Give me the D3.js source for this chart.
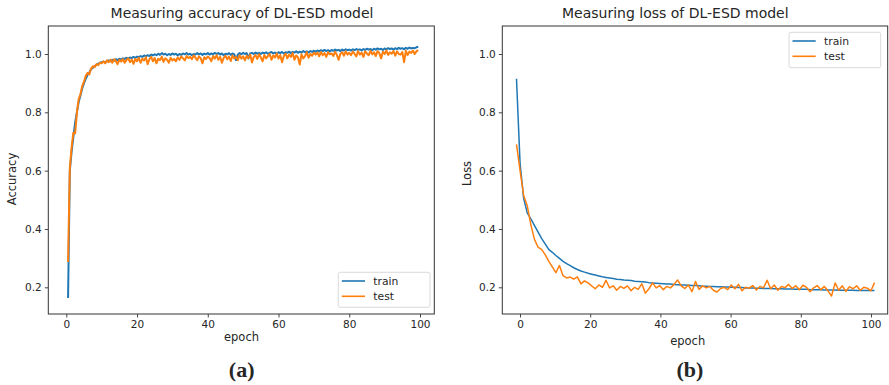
<!DOCTYPE html>
<html><head><meta charset="utf-8">
<script src="https://cdn.jsdelivr.net/npm/d3@7"></script>
<style>
body{margin:0;background:#fff}
svg{display:block}
text{font-family:"DejaVu Sans",sans-serif;fill:#262626}
</style>
</head><body><svg id="c" width="889" height="385"></svg>
<script>
// ---- data ----
const seriesNames = ["train", "test"];
const xTicks = [0, 20, 40, 60, 80, 100];
const yTicks = [0.2, 0.4, 0.6, 0.8, 1.0];

const accTrain = [
0.163,0.600,0.665,0.715,0.765,0.800,0.835,0.858,0.882,0.900,0.915,0.928,0.936,0.948,0.953,0.958,0.963,0.966,0.970,0.972,
0.974,0.970,0.976,0.978,0.975,0.980,0.977,0.982,0.979,0.984,0.981,0.985,0.983,0.987,0.984,0.988,0.986,0.990,0.987,0.991,
0.989,0.993,0.990,0.995,0.992,0.996,0.993,0.998,0.995,0.999,0.996,1.001,0.997,1.003,0.998,1.001,0.996,1.000,0.997,1.002,
0.998,1.001,0.995,1.000,0.997,1.002,0.999,1.003,0.998,1.001,0.996,1.000,0.998,1.003,0.999,1.002,0.997,1.001,0.999,1.003,
0.998,1.002,0.999,1.004,1.000,1.003,0.998,1.002,0.996,1.001,0.999,1.003,0.997,1.002,0.999,0.979,0.998,1.003,0.999,1.004,
1.000,1.003,0.985,1.002,1.004,1.000,1.005,1.001,1.004,1.000,1.005,1.002,1.006,1.001,1.004,1.007,1.002,1.005,1.001,1.006,
1.003,1.007,1.002,1.006,1.004,1.008,1.003,1.007,1.005,1.009,1.004,1.008,1.005,1.010,1.006,1.009,1.005,1.010,1.007,1.011,
1.008,1.012,1.009,1.013,1.010,1.014,1.010,1.013,1.009,1.014,1.011,1.015,1.012,1.014,1.010,1.015,1.012,1.016,1.013,1.015,
1.012,1.016,1.013,1.017,1.014,1.016,1.012,1.017,1.014,1.018,1.015,1.017,1.013,1.018,1.015,1.019,1.016,1.018,1.014,1.019,
1.016,1.020,1.017,1.019,1.015,1.020,1.017,1.021,1.018,1.020,1.016,1.021,1.018,1.022,1.019,1.021,1.020,1.023,1.025];

const accTest = [
0.287,0.610,0.680,0.730,0.728,0.800,0.845,0.862,0.890,0.905,0.925,0.935,0.930,0.950,0.958,0.955,0.965,0.962,0.970,0.968,
0.975,0.968,0.978,0.972,0.980,0.970,0.982,0.976,0.965,0.980,0.974,0.983,0.970,0.979,0.985,0.972,0.981,0.966,0.983,0.975,
0.987,0.970,0.984,0.978,0.989,0.965,0.982,0.990,0.975,0.986,0.968,0.984,0.979,0.991,0.973,0.985,0.980,0.970,0.987,0.978,
0.983,0.975,0.988,0.980,0.992,0.985,0.978,0.993,0.986,0.990,0.982,0.995,0.988,0.979,0.992,0.985,0.968,0.989,0.983,0.991,
0.986,0.975,0.993,0.984,0.996,0.980,0.990,0.970,0.987,0.994,0.982,0.991,0.976,0.995,0.985,0.990,0.979,0.996,0.984,0.992,
0.978,0.994,0.986,0.998,0.971,0.990,0.996,0.983,0.999,0.988,0.975,0.997,0.985,0.993,1.000,0.980,0.995,0.988,1.002,0.984,
0.996,0.972,0.993,1.001,0.985,0.998,0.990,1.003,0.980,0.995,0.988,0.964,0.999,0.985,0.993,1.006,0.987,1.000,0.994,1.004,
0.998,1.005,0.992,1.007,0.996,1.003,0.990,1.006,0.999,1.002,0.993,1.008,0.997,0.980,1.001,1.006,0.994,1.009,0.998,1.004,
0.996,1.008,1.001,0.992,1.010,0.998,1.005,0.990,1.009,1.002,0.996,1.011,0.999,1.006,0.993,1.010,1.003,0.985,1.008,1.000,
1.012,0.997,1.006,1.001,1.010,0.994,1.009,1.000,0.998,1.007,0.972,1.011,0.996,1.008,1.004,1.012,1.000,1.009,1.013];

const lossTrain = [
0.915,0.625,0.505,0.455,0.435,0.412,0.390,0.368,0.349,0.330,0.320,0.309,0.299,0.289,0.281,0.274,0.267,0.261,0.256,0.252,
0.248,0.245,0.242,0.239,0.236,0.234,0.232,0.230,0.228,0.227,0.225,0.224,0.223,0.221,0.220,0.219,0.218,0.216,0.215,0.214,
0.213,0.212,0.211,0.211,0.210,0.209,0.208,0.208,0.207,0.206,0.206,0.205,0.204,0.204,0.203,0.203,0.202,0.202,0.201,0.201,
0.200,0.200,0.199,0.199,0.198,0.198,0.198,0.197,0.197,0.196,0.196,0.196,0.195,0.195,0.195,0.194,0.194,0.194,0.193,0.193,
0.193,0.193,0.192,0.192,0.192,0.192,0.191,0.191,0.191,0.191,0.190,0.190,0.190,0.190,0.190,0.189,0.189,0.189,0.189,0.189,0.189];

const lossTest = [
0.690,0.600,0.515,0.480,0.415,0.365,0.338,0.330,0.312,0.290,0.270,0.250,0.275,0.240,0.232,0.235,0.228,0.236,0.212,0.222,
0.215,0.205,0.195,0.208,0.200,0.224,0.198,0.205,0.190,0.203,0.196,0.205,0.188,0.200,0.193,0.212,0.180,0.195,0.215,0.198,
0.206,0.192,0.203,0.198,0.210,0.225,0.205,0.196,0.208,0.185,0.220,0.193,0.205,0.198,0.203,0.190,0.184,0.196,0.200,0.192,
0.208,0.195,0.210,0.188,0.200,0.197,0.206,0.191,0.203,0.198,0.224,0.195,0.208,0.190,0.203,0.199,0.210,0.196,0.205,0.192,
0.207,0.200,0.185,0.198,0.206,0.192,0.203,0.188,0.170,0.215,0.190,0.205,0.186,0.202,0.195,0.205,0.190,0.200,0.197,0.188,0.216];

const accEpochs = d3.range(accTrain.length).map(i => 0.5 + 0.5 * i);
const lossEpochs = d3.range(lossTrain.length).map(i => -1 + 1.02 * i);

const colors = ["#1f77b4", "#ff7f0e"];

const panels = [
  {title:"Measuring accuracy of DL-ESD model", titleX:242, ylabel:"Accuracy", ylabelX:16, ylabelY:179,
   xlabelX:241.5, xlabelY:341, letter:"(a)", letterX:241.7,
   frame:{l:48.3,t:26,r:434.3,b:314}, xr:[66.3,420], yr:[287.3,54],
   xs:accEpochs, series:[accTrain, accTest], lw:2,
   legend:{x:338.3,y:272.3,w:91.7,h:35}},
  {title:"Measuring loss of DL-ESD model", titleX:675.3, ylabel:"Loss", ylabelX:471, ylabelY:173.5,
   xlabelX:687.7, xlabelY:345, letter:"(b)", letterX:690,
   frame:{l:502.3,t:26,r:887.7,b:314}, xr:[520,871], yr:[287.3,54],
   xs:lossEpochs, series:[lossTrain, lossTest], lw:1.5,
   legend:{x:789,y:32.3,w:91.7,h:35.4}}
];

const svg = d3.select("#c");

panels.forEach((p, pi) => {
  const f = p.frame;
  const x = d3.scaleLinear().domain([0, 100]).range(p.xr);
  const y = d3.scaleLinear().domain([0.2, 1.0]).range(p.yr);
  const g = svg.append("g");

  g.append("clipPath").attr("id", "clip" + pi).append("rect")
    .attr("x", f.l).attr("y", f.t).attr("width", f.r - f.l).attr("height", f.b - f.t);

  // axes
  const xa = g.append("g").attr("transform", `translate(0,${f.b})`)
    .call(d3.axisBottom(x).tickValues(xTicks).tickFormat(d3.format("d")).tickSize(3.5).tickPadding(3));
  const ya = g.append("g").attr("transform", `translate(${f.l},0)`)
    .call(d3.axisLeft(y).tickValues(yTicks).tickFormat(d3.format(".1f")).tickSize(3.5).tickPadding(3));
  [xa, ya].forEach(a => {
    a.select(".domain").remove();
    a.selectAll(".tick line").attr("stroke", "#333").attr("stroke-width", 0.9);
    a.selectAll(".tick text").attr("font-family", "DejaVu Sans").attr("font-size", 10.5).attr("fill", "#262626");
  });

  // lines
  const line = d3.line().x((d, i) => x(p.xs[i])).y(d => y(d));
  const lg = g.append("g").attr("clip-path", `url(#clip${pi})`);
  p.series.forEach((s, si) => {
    lg.append("path").datum(s).attr("d", line).attr("fill", "none")
      .attr("stroke", colors[si]).attr("stroke-width", p.lw).attr("stroke-linejoin", "round");
  });

  // frame
  g.append("rect").attr("x", f.l).attr("y", f.t).attr("width", f.r - f.l).attr("height", f.b - f.t)
    .attr("fill", "none").attr("stroke", "#333").attr("stroke-width", 1);

  // title & labels
  g.append("text").attr("x", p.titleX).attr("y", 18).attr("text-anchor", "middle")
    .attr("font-size", 14).text(p.title);
  g.append("text").attr("x", p.xlabelX).attr("y", p.xlabelY).attr("text-anchor", "middle")
    .attr("font-size", 11.5).text("epoch");
  g.append("text").attr("transform", `translate(${p.ylabelX},${p.ylabelY}) rotate(-90)`)
    .attr("text-anchor", "middle").attr("font-size", 11.5).text(p.ylabel);
  g.append("text").attr("x", p.letterX).attr("y", 377).attr("text-anchor", "middle")
    .attr("font-weight", "bold").attr("font-size", 22)
    .style("font-family", "'Liberation Serif', serif").text(p.letter);

  // legend
  const L = p.legend;
  const leg = g.append("g");
  leg.append("rect").attr("x", L.x).attr("y", L.y).attr("width", L.w).attr("height", L.h)
    .attr("rx", 2).attr("fill", "#fff").attr("fill-opacity", 0.85).attr("stroke", "#d0d0d0").attr("stroke-width", 0.8);
  seriesNames.forEach((n, si) => {
    const yy = L.y + 8.7 + si * 15.3;
    leg.append("line").attr("x1", L.x + 3.5).attr("x2", L.x + 26.7).attr("y1", yy).attr("y2", yy)
      .attr("stroke", colors[si]).attr("stroke-width", 1.6);
    leg.append("text").attr("x", L.x + 35).attr("y", yy + 3.8).attr("font-size", 10.8).text(n);
  });
});
</script>
</body></html>
